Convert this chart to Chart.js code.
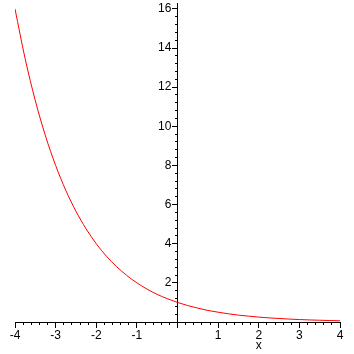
<!DOCTYPE html>
<html>
<head>
<meta charset="utf-8">
<script src="https://cdn.jsdelivr.net/npm/chart.js@4/dist/chart.umd.min.js"></script>
<style>
  html, body { margin: 0; padding: 0; background: #fff; }
  #wrap { width: 354px; height: 354px; }
</style>
</head>
<body>
<div id="wrap"><canvas id="plot"></canvas></div>
<script>
// x values
const xs = [-4, -3.75, -3.5, -3.25, -3, -2.75, -2.5, -2.25, -2, -1.75, -1.5, -1.25, -1, -0.75, -0.5, -0.25,
            0, 0.25, 0.5, 0.75, 1, 1.25, 1.5, 1.75, 2, 2.25, 2.5, 2.75, 3, 3.25, 3.5, 3.75, 4];
const ys = [16, 13.45, 11.31, 9.51, 8, 6.73, 5.66, 4.76, 4, 3.36, 2.83, 2.38, 2, 1.68, 1.41, 1.19,
            1, 0.84, 0.71, 0.59, 0.5, 0.42, 0.35, 0.3, 0.25, 0.21, 0.18, 0.15, 0.125, 0.105, 0.09, 0.075, 0.0625];
const xTicks = [-4, -3, -2, -1, 0, 1, 2, 3, 4];
const yTicks = [0, 2, 4, 6, 8, 10, 12, 14, 16];
const xLabel = 'x';

const font = { family: 'Liberation Sans', size: 12 };

const points = xs.map((x, i) => ({ x: x, y: ys[i] }));

// axes sit on the origin, so they should not eat layout space
const noSpace = (scale) => {
    if (scale.isHorizontal()) scale.height = 0;
    else scale.width = 0;
    scale.paddingTop = 0;
    scale.paddingBottom = 0;
    scale.paddingLeft = 0;
    scale.paddingRight = 0;
};

const keepTicks = (values) => (scale) => {
    scale.ticks = values.map(v => ({ value: v }));
};

const keepMinor = (step, lo, hi) => (scale) => {
    const out = [];
    for (let v = lo; v <= hi + 1e-9; v += step) out.push({ value: Math.round(v * 100) / 100 });
    scale.ticks = out;
};

const axisTitle = {
    id: 'axisTitle',
    afterDraw(chart) {
        const c = chart.ctx;
        const xs_ = chart.scales.x;
        c.save();
        c.font = '12px "Liberation Sans"';
        c.fillStyle = '#000';
        c.textAlign = 'center';
        c.textBaseline = 'middle';
        c.fillText(xLabel, xs_.getPixelForValue(2), 346);
        c.restore();
    }
};

const config = {
    type: 'line',
    data: {
        datasets: [{
            data: points,
            borderColor: '#ff0000',
            borderWidth: 1,
            pointRadius: 0,
            tension: 0.4,
            cubicInterpolationMode: 'monotone',
            fill: false
        }]
    },
    options: {
        responsive: true,
        maintainAspectRatio: false,
        animation: false,
        layout: { padding: { left: 15, right: 14, top: 3, bottom: 32 } },
        plugins: { legend: { display: false }, tooltip: { enabled: false } },
        scales: {
            x: {
                type: 'linear',
                min: -4, max: 4,
                position: { y: 0 },
                afterFit: noSpace,
                afterBuildTicks: keepTicks(xTicks),
                border: { color: '#000', width: 1 },
                grid: { drawOnChartArea: false, tickLength: 5, color: '#000', tickWidth: 1 },
                ticks: {
                    color: '#000', font: font, padding: 1, maxRotation: 0, autoSkip: false,
                    callback: (v) => v === 0 ? '' : String(v)
                }
            },
            xMinor: {
                type: 'linear',
                axis: 'x',
                min: -4, max: 4,
                position: { y: 0 },
                afterFit: noSpace,
                afterBuildTicks: keepMinor(0.2, -4, 4),
                border: { display: false },
                grid: { drawOnChartArea: false, tickLength: 3, color: '#000', tickWidth: 1 },
                ticks: { display: false, autoSkip: false }
            },
            y: {
                type: 'linear',
                min: 0, max: 16.3,
                position: { x: 0 },
                afterFit: noSpace,
                afterBuildTicks: keepTicks(yTicks),
                border: { color: '#000', width: 1 },
                grid: { drawOnChartArea: false, tickLength: 5, color: '#000', tickWidth: 1 },
                ticks: { display: false, autoSkip: false }
            },
            // labels of the y axis, set just left of the tick marks
            yLab: {
                type: 'linear',
                axis: 'y',
                min: 0, max: 16.3,
                position: { x: -0.15 },
                afterFit: noSpace,
                afterBuildTicks: keepTicks(yTicks),
                border: { display: false },
                grid: { display: false },
                ticks: {
                    color: '#000', font: font, autoSkip: false,
                    callback: (v) => v === 0 ? '' : String(v)
                }
            },
            yMinor: {
                type: 'linear',
                axis: 'y',
                min: 0, max: 16.3,
                position: { x: 0 },
                afterFit: noSpace,
                afterBuildTicks: keepMinor(0.4, 0, 16),
                border: { display: false },
                grid: { drawOnChartArea: false, tickLength: 3, color: '#000', tickWidth: 1 },
                ticks: { display: false, autoSkip: false }
            }
        }
    },
    plugins: [axisTitle]
};

new Chart(document.getElementById('plot').getContext('2d'), config);
</script>
</body>
</html>
